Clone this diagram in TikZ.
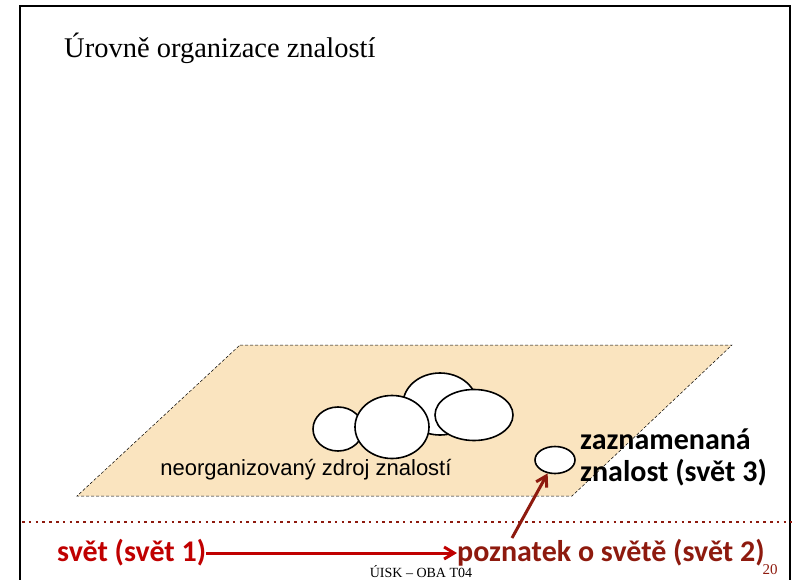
\documentclass[tikz,border=0pt]{standalone}
\usepackage{fontspec}
\setmainfont{Liberation Serif}
\newfontfamily\calibri{Carlito}
\newfontfamily\arial{Liberation Sans}
\usepackage{xcolor}
\usetikzlibrary{arrows.meta,positioning,shapes.geometric}
\definecolor{plane}{HTML}{FAE4BF}
\definecolor{redA}{HTML}{C00000}
\definecolor{redB}{HTML}{8E1A0E}

\begin{document}
\begin{tikzpicture}[x=1pt,y=-1pt,>={Straight Barb[length=10pt,width=12pt]},
  blob/.style={ellipse,draw,line width=1.6pt,fill=white,inner sep=0pt},
  big/.style={font=\calibri\bfseries\fontsize{30}{32}\selectfont,inner sep=0pt,anchor=west}]
\useasboundingbox (0,0) rectangle (792,580);
% frame
\draw[line width=2.8pt] (20,582) -- (20,6) -- (790,6) -- (790,582);
\node[anchor=west,font=\fontsize{28.5}{32}\selectfont,inner sep=0pt] (title) at (64,48) {Úrovně organizace znalostí};
% plane
\fill[plane] (240,345) -- (732,345) -- (572,496) -- (77,496) -- cycle;
\draw[densely dashed,line width=0.5pt] (240,345) -- (732,345) -- (572,496) -- (77,496) -- cycle;
\node[blob,minimum width=74pt,minimum height=62pt] (e3) at (440,404) {};
\node[blob,minimum width=50pt,minimum height=44pt] (e1) at (338,429) {};
\node[blob,minimum width=74pt,minimum height=63pt] (e2) at (392,427) {};
\node[blob,minimum width=78pt,minimum height=51pt] (e4) at (474,415) {};
\node[blob,minimum width=40pt,minimum height=27pt] (zn) at (555,460) {};
\node[font=\arial\fontsize{22}{26}\selectfont,inner sep=0pt] (src) at (306,470) {neorganizovaný zdroj znalostí};
\node[big,align=left] (w3) at (580,457) {zaznamenaná\\znalost (svět 3)};
% worlds
\draw[redB,line width=2.8pt,dash pattern=on 2.6pt off 4.2pt] (22,522) -- (792,522);
\node[big,text=redA] (w1) at (57,553) {svět (svět 1)};
\node[big,text=redB] (w2) at (457,553) {poznatek o světě (svět 2)};
\coordinate (pz) at (512,538);
\draw[->,redA,line width=3pt] (w1) -- (w2);
\draw[->,redB,line width=3pt] (pz) -- (zn);
\node[font=\fontsize{14}{16}\selectfont,inner sep=0pt] (foot) at (421,572) {ÚISK – OBA T04};
\node[font=\fontsize{15}{17}\selectfont,inner sep=0pt,text=redB] (pg) at (770,570) {20};
\end{tikzpicture}
\end{document}
